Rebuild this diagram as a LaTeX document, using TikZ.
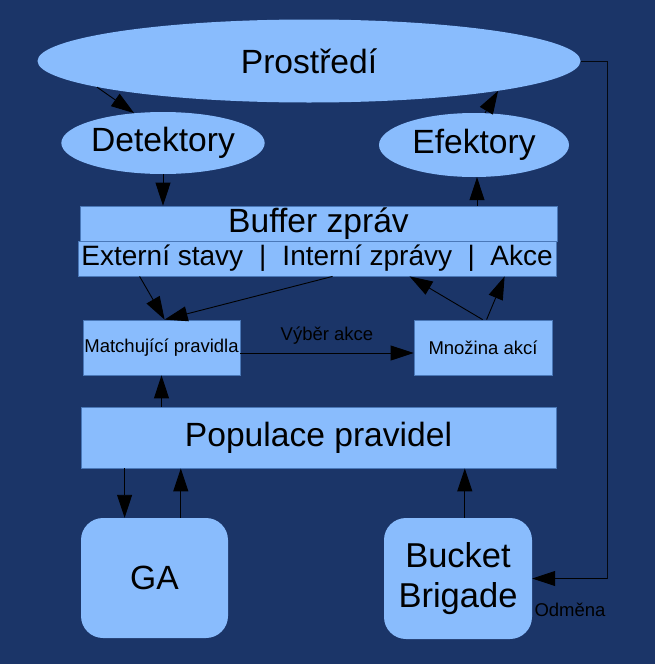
\documentclass[tikz,border=0pt]{standalone}
\usepackage{fontspec}
\setmainfont{Liberation Sans}
\usetikzlibrary{shapes.geometric,arrows.meta}
\definecolor{bgblue}{HTML}{1B3568}
\definecolor{lightfill}{HTML}{89BCFD}
\definecolor{edgeblue}{HTML}{4A78B8}
\tikzset{
  big/.style={font=\fontsize{33.6}{38}\selectfont},
  mid/.style={font=\fontsize{28}{32}\selectfont},
  small/.style={font=\fontsize{18.5}{22}\selectfont},
  ell/.style={ellipse, fill=lightfill, draw=none, inner sep=0pt, big},
  boxx/.style={rectangle, fill=lightfill, draw=edgeblue, line width=0.8pt, inner sep=0pt},
  rbox/.style={rectangle, rounded corners=22pt, fill=lightfill, draw=none, inner sep=0pt, big, align=center},
  conn/.style={draw=black, line width=0.9pt, -{Triangle[length=23pt,width=15pt]}},
  plain/.style={draw=black!85!bgblue, line width=0.9pt}
}
\begin{document}
\begin{tikzpicture}[x=1pt,y=-1pt]
\fill[bgblue] (0,0) rectangle (655,664);
\useasboundingbox (0,0) rectangle (655,664);

\node[ell, minimum width=543pt, minimum height=83pt] (env) at (309,61) {Prostředí};
\node[ell, minimum width=190pt, minimum height=62pt] (det) at (163,143) {Detektory};
\node[ell, minimum width=190pt, minimum height=64pt] (efe) at (474,145) {Efektory};

\node[boxx, big, minimum width=477pt, minimum height=35pt] (buf) at (318.5,223.5) {Buffer zpráv};
\node[boxx, mid, minimum width=478pt, minimum height=35pt] (sub) at (317,258.5)
  {Externí stavy\hspace{16pt}|\hspace{16pt}Interní zprávy\hspace{15.5pt}|\hspace{15.5pt}Akce};

\node[boxx, small, minimum width=157pt, minimum height=55pt] (match) at (161.5,347.5) {Matchující pravidla};
\node[boxx, small, minimum width=138pt, minimum height=55pt] (mnoz) at (483,347.5) {Množina akcí};

\node[boxx, big, minimum width=475pt, minimum height=61pt] (pop) at (318.5,437.5) {Populace pravidel};

\node[rbox, minimum width=147pt, minimum height=120pt] (ga) at (154.5,578) {GA};
\node[rbox, minimum width=148pt, minimum height=121pt, font=\fontsize{34.5}{40}\selectfont] (bb) at (458,578.5) {Bucket\\Brigade};

\coordinate (corner) at (607,61);

% connectors
\draw[conn] (env.187) -- (det.134);
\draw[conn] (det.south) -- (buf.north -| det.south);
\draw[conn] ([xshift=3pt]buf.north -| efe.south) -- ([xshift=3pt]efe.south);
\draw[conn] (efe.71) -- (env.351.3);

\draw[conn] ([xshift=62pt]sub.south west) -- ([xshift=82pt]match.north west);
\draw[conn] ([xshift=255pt]sub.south west) -- ([xshift=82pt]match.north west);
\draw[conn] ([xshift=69pt]mnoz.north west) -- ([xshift=332pt]sub.south west);
\draw[conn] ([xshift=73pt]mnoz.north west) -- ([xshift=427pt]sub.south west);

\draw[conn] ([yshift=-5.5pt]match.east) -- node[small, above=5pt] (vyber) {Výběr akce} ([yshift=-5.5pt]mnoz.west);

\draw[conn] (pop.north -| match.south) -- (match.south);
\draw[conn] ([xshift=44pt]pop.south west) -- ([xshift=44pt]pop.south west |- ga.north);
\draw[conn] ([xshift=100pt]ga.north west) -- ([xshift=100pt]ga.north west |- pop.south);
\draw[conn] ([xshift=81pt]bb.north west) -- ([xshift=81pt]bb.north west |- pop.south);

\draw[plain] (env.east) -- (corner) -- (corner |- bb.east);
\draw[conn] (corner |- bb.east) -- (bb.east);
\node[small, anchor=center] (odm) at (570,610) {Odměna};
\end{tikzpicture}
\end{document}
